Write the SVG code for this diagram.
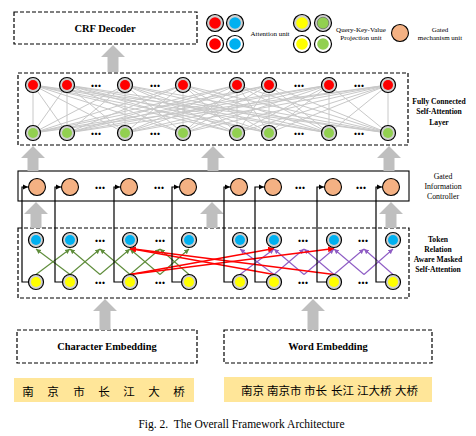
<svg xmlns="http://www.w3.org/2000/svg" width="476" height="436" viewBox="0 0 476 436">
<style>
.box{fill:#fff;stroke:#000;stroke-width:1.2;stroke-dasharray:4 2}
.sbox{fill:none;stroke:#000;stroke-width:1.1}
.ring{fill:#d0d0d0;stroke:#000;stroke-width:1.2}
.wring{fill:#fff;stroke:#000;stroke-width:1.2}
.red{fill:#ff0000}.blue{fill:#00b0f0}.yel{fill:#ffff00}.grn{fill:#92d050}
.org{fill:#f4b183;stroke:#000;stroke-width:1.1}
.garrow{fill:#bfbfbf}
.fc{stroke:#c8c8c8;stroke-width:1;fill:none}
.gl{stroke:#5e8c3a;stroke-width:1.1;fill:none;marker-end:url(#ag)}
.pl{stroke:#8e5cc4;stroke-width:1.1;fill:none;marker-end:url(#ap)}
.rl{stroke:#ff0000;stroke-width:1.4;fill:none;marker-end:url(#ar)}
.bl{stroke:#000;stroke-width:1.2;fill:none;marker-end:url(#ab)}
.t{font-family:"Liberation Serif",serif;fill:#000}
.b{font-weight:bold}
.dots{font-family:"Liberation Serif",serif;font-weight:bold;font-size:14px;text-anchor:middle}
.cjk{font-family:"Noto Sans CJK SC",sans-serif;font-size:11.5px;fill:#000}
</style>
<defs>
<marker id="ab" markerUnits="userSpaceOnUse" markerWidth="6" markerHeight="6" refX="5" refY="3" orient="auto"><path d="M0,0.5 L5,3 L0,5.5z" fill="#000"/></marker>
<marker id="ag" markerUnits="userSpaceOnUse" markerWidth="6" markerHeight="6" refX="5" refY="3" orient="auto"><path d="M0,0.5 L5,3 L0,5.5z" fill="#5e8c3a"/></marker>
<marker id="ap" markerUnits="userSpaceOnUse" markerWidth="6" markerHeight="6" refX="5" refY="3" orient="auto"><path d="M0,0.5 L5,3 L0,5.5z" fill="#8e5cc4"/></marker>
<marker id="ar" markerUnits="userSpaceOnUse" markerWidth="7" markerHeight="7" refX="6" refY="3.5" orient="auto"><path d="M0,0.5 L6,3.5 L0,6.5z" fill="#ff0000"/></marker>
</defs>
<rect width="476" height="436" fill="#fff"/>

<!-- boxes -->
<g id="crf-decoder"><rect class="box" x="14" y="12" width="183" height="32"/><text class="t b" x="105" y="32" font-size="10.5" text-anchor="middle">CRF Decoder</text></g>
<g id="fc-layer"><rect class="box" x="18" y="73" width="390" height="72"/></g>
<g id="gated-layer"><rect class="sbox" x="18" y="171" width="391" height="30"/></g>
<g id="attn-layer"><rect class="box" x="18" y="228" width="391" height="70"/></g>
<g id="char-emb"><rect class="box" x="17" y="330" width="180" height="33"/><text class="t b" x="107" y="349.5" font-size="10.4" text-anchor="middle">Character Embedding</text></g>
<g id="word-emb"><rect class="box" x="224" y="330" width="208" height="33"/><text class="t b" x="328" y="349.5" font-size="10.4" text-anchor="middle">Word Embedding</text></g>

<g id="connectors">
<polygon class="garrow" points="113,45 125,57 118.5,57 118.5,72 107.5,72 107.5,57 101,57"/>
<polygon class="garrow" points="33,146 45,158 38.5,158 38.5,171 27.5,171 27.5,158 21,158"/>
<polygon class="garrow" points="213,146 225,158 218.5,158 218.5,171 207.5,171 207.5,158 201,158"/>
<polygon class="garrow" points="389,146 401,158 394.5,158 394.5,171 383.5,171 383.5,158 377,158"/>
<polygon class="garrow" points="36,202 48,214 41.5,214 41.5,228 30.5,228 30.5,214 24,214"/>
<polygon class="garrow" points="212,202 224,214 217.5,214 217.5,228 206.5,228 206.5,214 200,214"/>
<polygon class="garrow" points="391,202 403,214 396.5,214 396.5,228 385.5,228 385.5,214 379,214"/>
<polygon class="garrow" points="105,299 117,311 110.5,311 110.5,330 99.5,330 99.5,311 93,311"/>
<polygon class="garrow" points="313,299 325,311 318.5,311 318.5,330 307.5,330 307.5,311 301,311"/>

<path class="fc" d="M33 85L33 133M33 85L67 133M33 85L125 133M33 85L183 133M33 85L237 133M33 85L269 133M33 85L329 133M33 85L388 133M67 85L33 133M67 85L67 133M67 85L125 133M67 85L183 133M67 85L237 133M67 85L269 133M67 85L329 133M67 85L388 133M125 85L33 133M125 85L67 133M125 85L125 133M125 85L183 133M125 85L237 133M125 85L269 133M125 85L329 133M125 85L388 133M183 85L33 133M183 85L67 133M183 85L125 133M183 85L183 133M183 85L237 133M183 85L269 133M183 85L329 133M183 85L388 133M237 85L33 133M237 85L67 133M237 85L125 133M237 85L183 133M237 85L237 133M237 85L269 133M237 85L329 133M237 85L388 133M269 85L33 133M269 85L67 133M269 85L125 133M269 85L183 133M269 85L237 133M269 85L269 133M269 85L329 133M269 85L388 133M329 85L33 133M329 85L67 133M329 85L125 133M329 85L183 133M329 85L237 133M329 85L269 133M329 85L329 133M329 85L388 133M388 85L33 133M388 85L67 133M388 85L125 133M388 85L183 133M388 85L237 133M388 85L269 133M388 85L329 133M388 85L388 133"/>

<line class="gl" x1="36" y1="274.5" x2="70" y2="249"/><line class="gl" x1="70" y1="274.5" x2="36" y2="249"/>
<line class="gl" x1="70" y1="274.5" x2="100" y2="249"/><line class="gl" x1="100" y1="274.5" x2="70" y2="249"/>
<line class="gl" x1="100" y1="274.5" x2="130" y2="249"/><line class="gl" x1="130" y1="274.5" x2="100" y2="249"/>
<line class="gl" x1="130" y1="274.5" x2="160" y2="249"/><line class="gl" x1="160" y1="274.5" x2="130" y2="249"/>
<line class="gl" x1="160" y1="274.5" x2="189" y2="249"/><line class="gl" x1="189" y1="274.5" x2="160" y2="249"/>

<line class="pl" x1="240" y1="274.5" x2="274" y2="249"/><line class="pl" x1="274" y1="274.5" x2="240" y2="249"/>
<line class="pl" x1="274" y1="274.5" x2="304" y2="249"/><line class="pl" x1="304" y1="274.5" x2="274" y2="249"/>
<line class="pl" x1="304" y1="274.5" x2="334" y2="249"/><line class="pl" x1="334" y1="274.5" x2="304" y2="249"/>
<line class="pl" x1="334" y1="274.5" x2="364" y2="249"/><line class="pl" x1="364" y1="274.5" x2="334" y2="249"/>
<line class="pl" x1="364" y1="274.5" x2="393" y2="249"/><line class="pl" x1="393" y1="274.5" x2="364" y2="249"/>

<line class="rl" x1="130" y1="274.5" x2="274" y2="248.5"/>
<line class="rl" x1="274" y1="274.5" x2="130" y2="248.5"/>
<line class="rl" x1="130" y1="274.5" x2="334" y2="248.5"/>
<line class="rl" x1="334" y1="274.5" x2="130" y2="248.5"/>

<path class="bl" d="M28.5 282H22V187H28"/>
<path class="bl" d="M62.5 282H55V187H61"/>
<path class="bl" d="M122.5 282H114V187H120"/>
<path class="bl" d="M181.5 282H172V187H179"/>
<path class="bl" d="M232.5 282H224V187H230"/>
<path class="bl" d="M266.5 282H255V187H264"/>
<path class="bl" d="M326.5 282H317V187H324"/>
<path class="bl" d="M385.5 282H376V187H382"/>
</g>

<!-- FC nodes -->
<g id="fc-top-1"><circle class="ring" cx="33" cy="85" r="7.5"/><circle class="red" cx="33" cy="85" r="5"/></g>
<g id="fc-top-2"><circle class="ring" cx="67" cy="85" r="7.5"/><circle class="red" cx="67" cy="85" r="5"/></g>
<g id="fc-top-3"><circle class="ring" cx="125" cy="85" r="7.5"/><circle class="red" cx="125" cy="85" r="5"/></g>
<g id="fc-top-4"><circle class="ring" cx="183" cy="85" r="7.5"/><circle class="red" cx="183" cy="85" r="5"/></g>
<g id="fc-top-5"><circle class="ring" cx="237" cy="85" r="7.5"/><circle class="red" cx="237" cy="85" r="5"/></g>
<g id="fc-top-6"><circle class="ring" cx="269" cy="85" r="7.5"/><circle class="red" cx="269" cy="85" r="5"/></g>
<g id="fc-top-7"><circle class="ring" cx="329" cy="85" r="7.5"/><circle class="red" cx="329" cy="85" r="5"/></g>
<g id="fc-top-8"><circle class="ring" cx="388" cy="85" r="7.5"/><circle class="red" cx="388" cy="85" r="5"/></g>
<g id="fc-bot-1"><circle class="ring" cx="33" cy="133" r="7.5"/><circle class="grn" cx="33" cy="133" r="5"/></g>
<g id="fc-bot-2"><circle class="ring" cx="67" cy="133" r="7.5"/><circle class="grn" cx="67" cy="133" r="5"/></g>
<g id="fc-bot-3"><circle class="ring" cx="125" cy="133" r="7.5"/><circle class="grn" cx="125" cy="133" r="5"/></g>
<g id="fc-bot-4"><circle class="ring" cx="183" cy="133" r="7.5"/><circle class="grn" cx="183" cy="133" r="5"/></g>
<g id="fc-bot-5"><circle class="ring" cx="237" cy="133" r="7.5"/><circle class="grn" cx="237" cy="133" r="5"/></g>
<g id="fc-bot-6"><circle class="ring" cx="269" cy="133" r="7.5"/><circle class="grn" cx="269" cy="133" r="5"/></g>
<g id="fc-bot-7"><circle class="ring" cx="329" cy="133" r="7.5"/><circle class="grn" cx="329" cy="133" r="5"/></g>
<g id="fc-bot-8"><circle class="ring" cx="388" cy="133" r="7.5"/><circle class="grn" cx="388" cy="133" r="5"/></g>

<!-- gated nodes -->
<g id="gate-1"><circle class="org" cx="37" cy="187" r="8.5"/></g>
<g id="gate-2"><circle class="org" cx="70" cy="187" r="8.5"/></g>
<g id="gate-3"><circle class="org" cx="129" cy="187" r="8.5"/></g>
<g id="gate-4"><circle class="org" cx="188" cy="187" r="8.5"/></g>
<g id="gate-5"><circle class="org" cx="239" cy="187" r="8.5"/></g>
<g id="gate-6"><circle class="org" cx="273" cy="187" r="8.5"/></g>
<g id="gate-7"><circle class="org" cx="333" cy="187" r="8.5"/></g>
<g id="gate-8"><circle class="org" cx="391" cy="187" r="8.5"/></g>

<!-- attention nodes -->
<g id="att-1"><circle class="ring" cx="36" cy="240" r="7.5"/><circle class="blue" cx="36" cy="240" r="5"/></g>
<g id="att-2"><circle class="ring" cx="70" cy="240" r="7.5"/><circle class="blue" cx="70" cy="240" r="5"/></g>
<g id="att-3"><circle class="ring" cx="130" cy="240" r="7.5"/><circle class="blue" cx="130" cy="240" r="5"/></g>
<g id="att-4"><circle class="ring" cx="189" cy="240" r="7.5"/><circle class="blue" cx="189" cy="240" r="5"/></g>
<g id="att-5"><circle class="ring" cx="240" cy="240" r="7.5"/><circle class="blue" cx="240" cy="240" r="5"/></g>
<g id="att-6"><circle class="ring" cx="274" cy="240" r="7.5"/><circle class="blue" cx="274" cy="240" r="5"/></g>
<g id="att-7"><circle class="ring" cx="334" cy="240" r="7.5"/><circle class="blue" cx="334" cy="240" r="5"/></g>
<g id="att-8"><circle class="ring" cx="393" cy="240" r="7.5"/><circle class="blue" cx="393" cy="240" r="5"/></g>
<g id="qkv-1"><circle class="ring" cx="36" cy="282" r="7.5"/><circle class="yel" cx="36" cy="282" r="5"/></g>
<g id="qkv-2"><circle class="ring" cx="70" cy="282" r="7.5"/><circle class="yel" cx="70" cy="282" r="5"/></g>
<g id="qkv-3"><circle class="ring" cx="130" cy="282" r="7.5"/><circle class="yel" cx="130" cy="282" r="5"/></g>
<g id="qkv-4"><circle class="ring" cx="189" cy="282" r="7.5"/><circle class="yel" cx="189" cy="282" r="5"/></g>
<g id="qkv-5"><circle class="ring" cx="240" cy="282" r="7.5"/><circle class="yel" cx="240" cy="282" r="5"/></g>
<g id="qkv-6"><circle class="ring" cx="274" cy="282" r="7.5"/><circle class="yel" cx="274" cy="282" r="5"/></g>
<g id="qkv-7"><circle class="ring" cx="334" cy="282" r="7.5"/><circle class="yel" cx="334" cy="282" r="5"/></g>
<g id="qkv-8"><circle class="ring" cx="393" cy="282" r="7.5"/><circle class="yel" cx="393" cy="282" r="5"/></g>

<!-- ellipses -->
<g id="ellipses">
<text class="dots" x="96" y="87">...</text><text class="dots" x="155" y="87">...</text><text class="dots" x="299" y="87">...</text><text class="dots" x="359" y="87">...</text>
<text class="dots" x="96" y="135">...</text><text class="dots" x="155" y="135">...</text><text class="dots" x="299" y="135">...</text><text class="dots" x="359" y="135">...</text>
<text class="dots" x="100" y="189">...</text><text class="dots" x="159" y="189">...</text><text class="dots" x="300" y="189">...</text><text class="dots" x="361" y="189">...</text>
<text class="dots" x="100" y="242">...</text><text class="dots" x="160" y="242">...</text><text class="dots" x="303" y="242">...</text><text class="dots" x="363" y="242">...</text>
<text class="dots" x="100" y="284">...</text><text class="dots" x="160" y="284">...</text><text class="dots" x="303" y="284">...</text><text class="dots" x="363" y="284">...</text>
</g>

<!-- legend -->
<g id="legend-attention">
<circle class="ring" cx="215" cy="23" r="8.5"/><circle class="red" cx="215" cy="23" r="5.8"/>
<circle class="ring" cx="235" cy="23" r="8.5"/><circle class="blue" cx="235" cy="23" r="5.8"/>
<circle class="wring" cx="215" cy="44" r="8.5"/><circle class="red" cx="215" cy="44" r="5.8"/>
<circle class="wring" cx="235" cy="44" r="8.5"/><circle class="blue" cx="235" cy="44" r="5.8"/>
<text class="t" x="270" y="36" font-size="7" text-anchor="middle">Attention unit</text>
</g>
<g id="legend-qkv">
<circle class="ring" cx="302" cy="23" r="8.5"/><circle class="yel" cx="302" cy="23" r="5.8"/>
<circle class="ring" cx="323" cy="23" r="8.5"/><circle class="grn" cx="323" cy="23" r="5.8" stroke="#555" stroke-width="0.6"/>
<circle class="wring" cx="302" cy="44" r="8.5"/><circle class="yel" cx="302" cy="44" r="5.8"/>
<circle class="wring" cx="323" cy="44" r="8.5"/><circle class="grn" cx="323" cy="44" r="5.8"/>
<text class="t" x="361" y="32" font-size="7" text-anchor="middle">Query-Key-Value</text>
<text class="t" x="361" y="40" font-size="7" text-anchor="middle">Projection unit</text>
</g>
<g id="legend-gated">
<circle class="org" cx="400" cy="33" r="8.5"/>
<text class="t" x="440" y="32" font-size="7" text-anchor="middle">Gated</text>
<text class="t" x="440" y="40" font-size="7" text-anchor="middle">mechanism unit</text>
</g>

<!-- side labels -->
<text class="t b" font-size="7.6" text-anchor="middle"><tspan x="439" y="103.5">Fully Connected</tspan><tspan x="439" y="113.5">Self-Attention</tspan><tspan x="439" y="124.5">Layer</tspan></text>
<text class="t" font-size="7.8" text-anchor="middle"><tspan x="443" y="178.5">Gated</tspan><tspan x="443" y="188.5">Information</tspan><tspan x="443" y="198.5">Controller</tspan></text>
<text class="t b" font-size="7.6" text-anchor="middle"><tspan x="438" y="242">Token</tspan><tspan x="438" y="252">Relation</tspan><tspan x="438" y="262">Aware Masked</tspan><tspan x="438" y="272">Self-Attention</tspan></text>

<!-- input tokens -->
<g id="char-tokens">
<rect x="14" y="378" width="180" height="24" fill="#ffe699"/>
<text class="cjk" y="395.5" text-anchor="middle"><tspan x="28">南</tspan><tspan x="53">京</tspan><tspan x="79">市</tspan><tspan x="104">长</tspan><tspan x="129">江</tspan><tspan x="154">大</tspan><tspan x="179">桥</tspan></text>
</g>
<g id="word-tokens">
<rect x="224" y="377" width="208" height="25" fill="#ffe699"/>
<text class="cjk" y="394.5"><tspan x="241">南京</tspan><tspan x="267">南京市</tspan><tspan x="304">市长</tspan><tspan x="331">长江</tspan><tspan x="357">江大桥</tspan><tspan x="395">大桥</tspan></text>
</g>

<text class="t" x="241.5" y="428" font-size="11.5" fill="#1b1f4b" text-anchor="middle" xml:space="preserve">Fig. 2.  The Overall Framework Architecture</text>
</svg>
